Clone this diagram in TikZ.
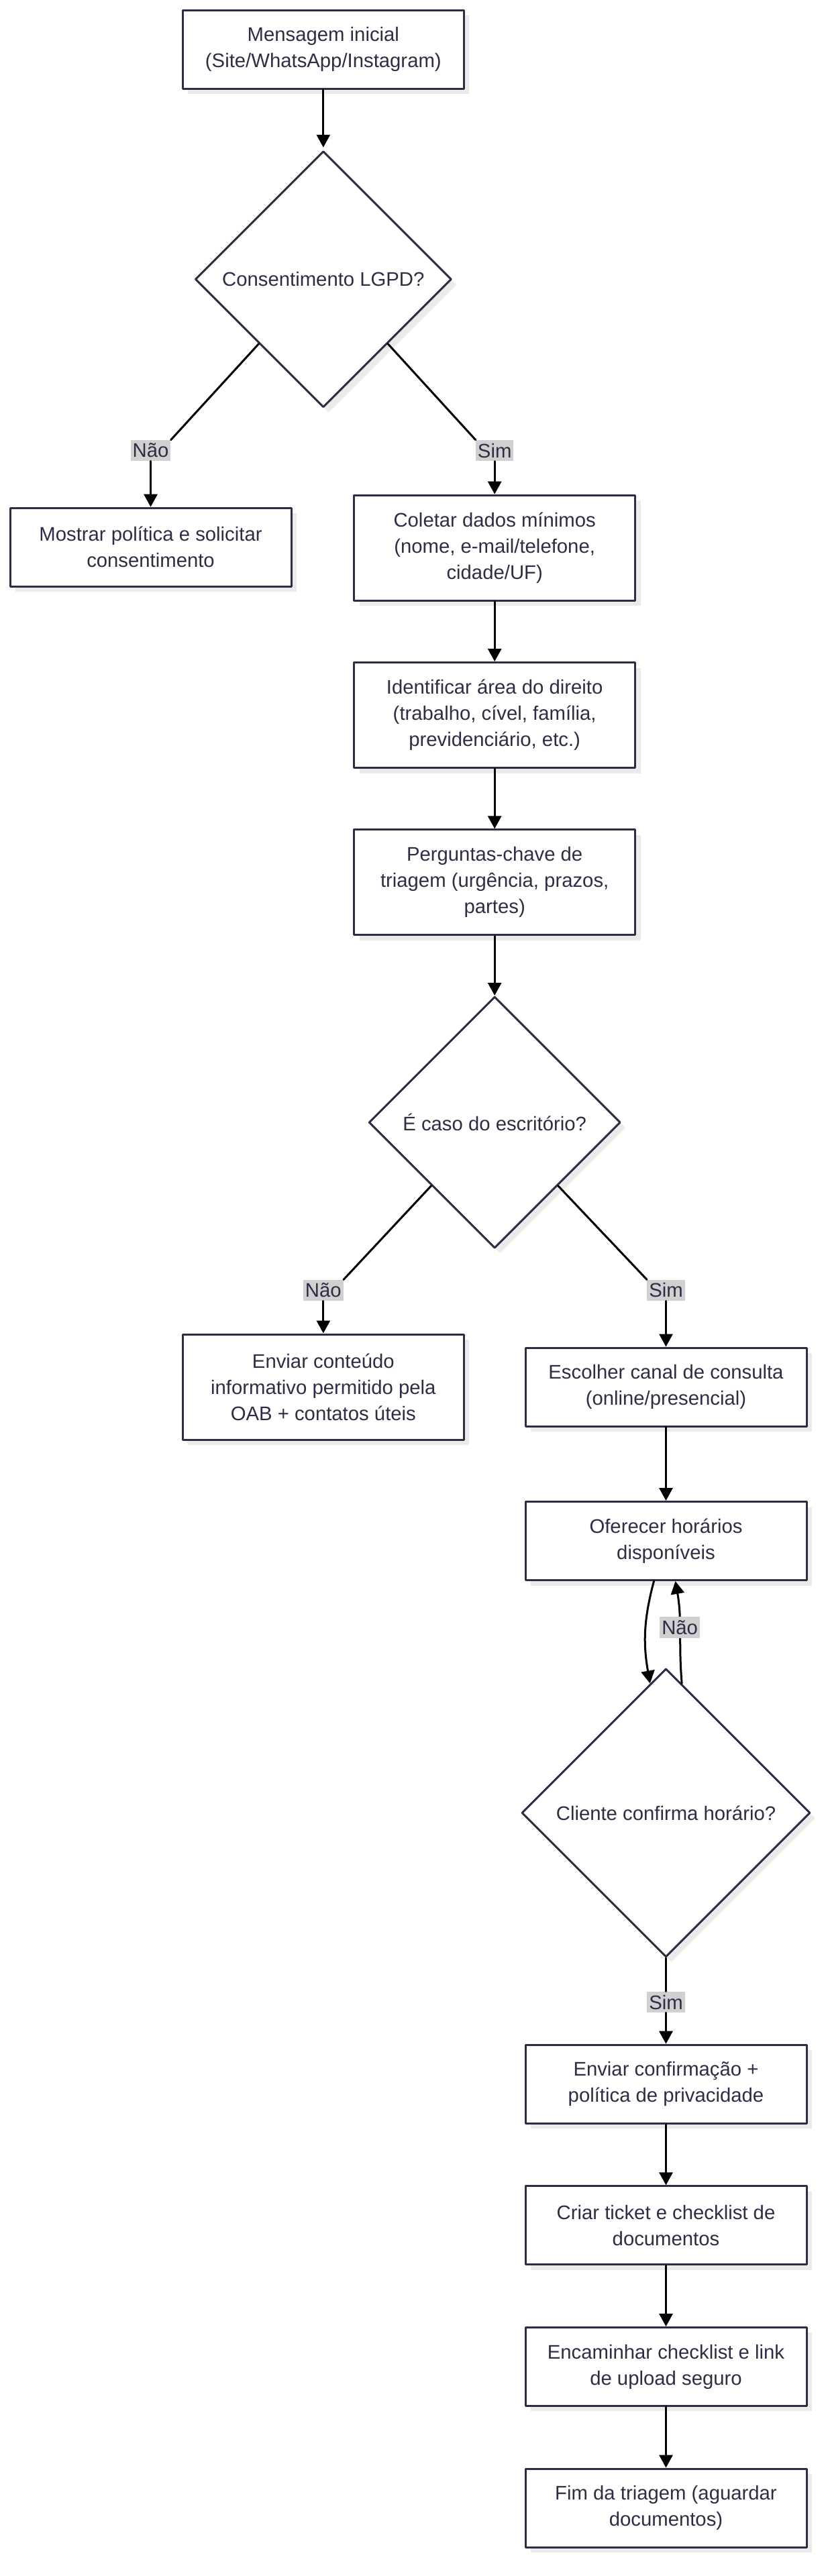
\documentclass[tikz,border=0pt]{standalone}
\usepackage{fontspec}
\setmainfont{Liberation Sans}
\usetikzlibrary{shapes.geometric,arrows.meta,shadows,positioning}
\definecolor{vien}{HTML}{2E2D45}
\definecolor{nennhan}{HTML}{D0D0D0}
\definecolor{bong}{HTML}{EBEBEB}
\tikzset{
  hop/.style={draw=vien, line width=3pt, fill=white, text=vien, align=center,
    minimum width=419pt, minimum height=117pt, inner sep=0pt,
    drop shadow={shadow xshift=8pt, shadow yshift=-8pt, fill=bong, opacity=1}},
  hop3/.style={hop, minimum height=157pt},
  thoi/.style={hop, diamond, aspect=1, minimum width=#1, minimum height=#1},
  nhan/.style={fill=nennhan, text=vien, inner xsep=3pt, inner ysep=5pt},
  canh/.style={line width=3pt, line cap=round},
  mui/.style={canh, -{Triangle[length=19pt,width=20pt]}},
}
\begin{document}
\begin{tikzpicture}[x=0.9935pt, y=-0.9935pt, font=\fontsize{29.3}{39}\selectfont, line join=round]
	\useasboundingbox (0,0) rectangle (1241.1,3865.1);
	
	% Các nút của sơ đồ
	\node[hop] (msg) at (485,74) {Mensagem inicial\\(Site/WhatsApp/Instagram)};
	\node[thoi=382pt] (lgpd) at (485,419) {Consentimento LGPD?};
	\node[hop] (politica) at (226,821) {Mostrar política e solicitar\\consentimento};
	\node[hop3] (coletar) at (742,822) {Coletar dados mínimos\\(nome, e-mail/telefone,\\cidade/UF)};
	\node[hop3] (area) at (742,1073) {Identificar área do direito\\(trabalho, cível, família,\\previdenciário, etc.)};
	\node[hop3] (perguntas) at (742,1324) {Perguntas-chave de\\triagem (urgência, prazos,\\partes)};
	\node[thoi=375pt] (caso) at (742,1684) {É caso do escritório?};
	\node[hop3] (conteudo) at (485,2081) {Enviar conteúdo\\informativo permitido pela\\OAB + contatos úteis};
	\node[hop] (canal) at (999,2081) {Escolher canal de consulta\\(online/presencial)};
	\node[hop] (horarios) at (999,2312) {Oferecer horários\\disponíveis};
	\node[thoi=430pt] (confirma) at (999,2720) {Cliente confirma horário?};
	\node[hop] (confirmacao) at (999,3127) {Enviar confirmação +\\política de privacidade};
	\node[hop] (ticket) at (999,3339) {Criar ticket e checklist de\\documentos};
	\node[hop] (link) at (999,3551) {Encaminhar checklist e link\\de upload seguro};
	\node[hop] (fim) at (999,3763) {Fim da triagem (aguardar\\documentos)};
	
	% Nhãn trên các cạnh
	\node[nhan] (nao1) at (226,676) {Não};
	\node[nhan] (sim1) at (742,676) {Sim};
	\node[nhan] (nao2) at (485,1936) {Não};
	\node[nhan] (sim2) at (999,1936) {Sim};
	\node[nhan] (sim3) at (999,3004) {Sim};
	
	% Các mũi tên
	\draw[mui, shorten >=4pt] (msg) -- (lgpd);
	\draw[canh] (lgpd.225) -- (nao1.north east);
	\draw[mui] (nao1) -- (politica);
	\draw[canh] (lgpd.315) -- (sim1.north west);
	\draw[mui] (sim1) -- (coletar);
	\draw[mui] (coletar) -- (area);
	\draw[mui] (area) -- (perguntas);
	\draw[mui] (perguntas) -- (caso);
	\draw[canh] (caso.225) -- (nao2.north east);
	\draw[mui] (nao2) -- (conteudo);
	\draw[canh] (caso.315) -- (sim2.north west);
	\draw[mui] (sim2) -- (canal);
	\draw[mui] (canal) -- (horarios);
	\draw[mui] ([xshift=-18pt]horarios.south) to[out=-105, in=100] (confirma.97);
	\draw[mui] (confirma.83) to[out=95, in=-80] node[nhan, pos=0.55] (nao3) {Não} ([xshift=14pt]horarios.south);
	\draw[canh] (confirma) -- (sim3);
	\draw[mui] (sim3) -- (confirmacao);
	\draw[mui] (confirmacao) -- (ticket);
	\draw[mui] (ticket) -- (link);
	\draw[mui] (link) -- (fim);
\end{tikzpicture}
\end{document}
